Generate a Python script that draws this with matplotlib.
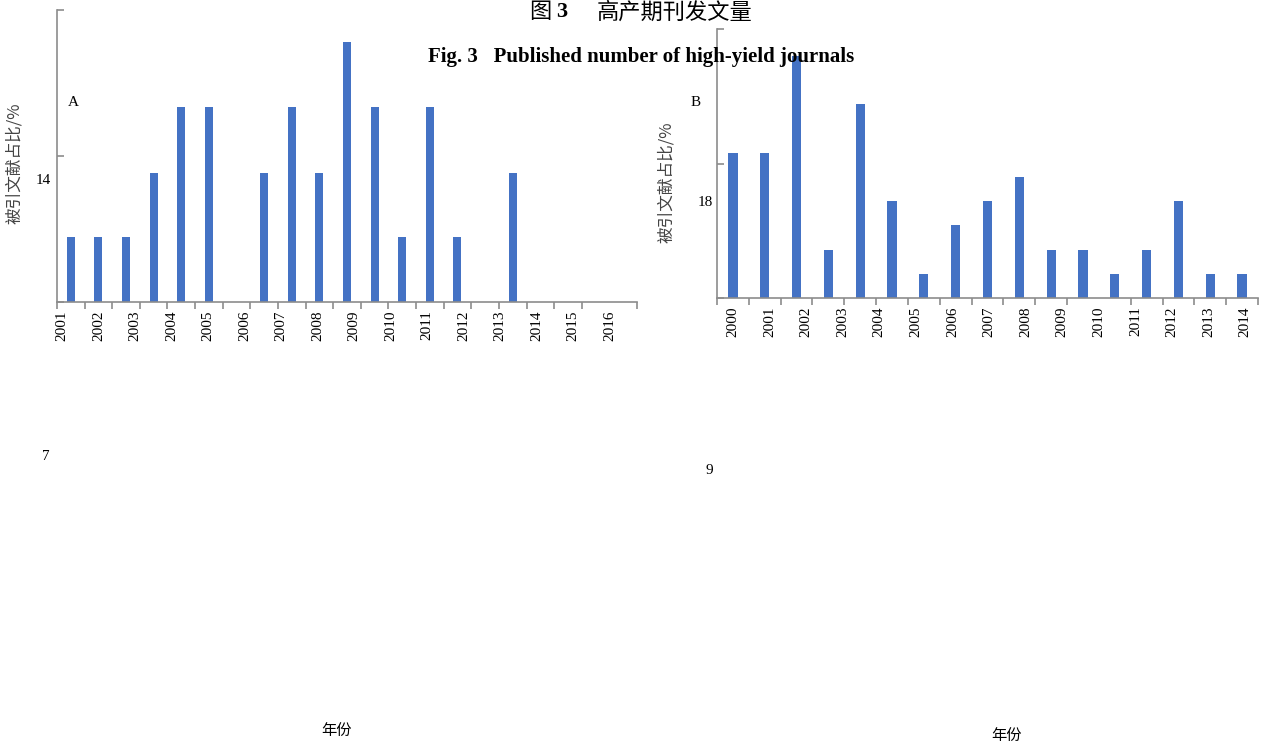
import numpy as np
import matplotlib
matplotlib.use("Agg")
import matplotlib.pyplot as plt

plt.rcParams["font.family"] = ["Liberation Serif", "Noto Sans CJK SC", "DejaVu Sans"]

# panel A: share of cited papers (%), one value per slot on the axis
years_a = ["2001", "2002", "2003", "2004", "2005", "2006", "2007", "2008",
           "2009", "2010", "2011", "2012", "2013", "2014", "2015", "2016"]
share_a = [6.7, 6.7, 6.7, 13.3, 20, 20, 0, 13.3, 20, 13.3, 26.7, 20, 6.7,
           20, 6.7, 0, 13.3, 0, 0, 0, 0]

# panel B
years_b = ["2000", "2001", "2002", "2003", "2004", "2005", "2006", "2007",
           "2008", "2009", "2010", "2011", "2012", "2013", "2014"]
share_b = [27, 27, 45, 9, 36, 18, 4.5, 13.5, 18, 22.5, 9, 9, 4.5, 9, 18,
           4.5, 4.5]

W, H = 1262, 742
BLUE = "#4472C4"
GREY = "#8c8c8c"
CJK = ["Noto Sans CJK SC", "DejaVu Sans"]
SERIF = ["Liberation Serif", "DejaVu Serif"]


def px(x, y):
    # pixel position (from top-left) -> figure fraction
    return x / W, 1 - y / H


def panel(rect, values, labels, ymax, label_span, ylabel_xy):
    ax = fig.add_axes(rect)
    n = len(values)
    x = np.arange(n)
    ax.bar(x, values, width=0.29, color=BLUE)
    ax.set_xlim(-0.5, n - 0.5)
    ax.set_ylim(0, ymax)
    for s in ("top", "right"):
        ax.spines[s].set_visible(False)
    for s in ("left", "bottom"):
        ax.spines[s].set_color(GREY)
        ax.spines[s].set_linewidth(1.2)
    # slot boundary ticks without labels
    ax.set_xticks(np.arange(n + 1) - 0.5, minor=True)
    ax.tick_params(axis="x", which="minor", direction="out", length=5,
                   color=GREY, width=1.2)
    # year labels spread evenly, independent of the slots
    ax.set_xticks(np.linspace(label_span[0], label_span[1], len(labels)))
    ax.set_xticklabels(labels, rotation=90, fontsize=11, family=SERIF)
    ax.tick_params(axis="x", which="major", length=0, pad=6)
    ax.set_yticks([0, ymax / 2, ymax])
    ax.set_yticklabels([])
    ax.tick_params(axis="y", direction="in", length=5, color=GREY, width=1.2)
    ax.set_ylabel("被引文献占比/%", family=CJK, fontsize=12, color="#444444")
    ax.yaxis.set_label_coords(*ylabel_xy)
    return ax


fig = plt.figure(figsize=(W / 100, H / 100), dpi=100)

panel([57 / W, 440 / H, 580 / W, 292 / H], share_a, years_a, 30,
      (-0.32, 19.5), (-0.058, 0.476))
panel([717 / W, 444 / H, 541 / W, 269 / H], share_b, years_b, 50,
      (0.0, 16.1), (-0.077, 0.43))

# title
fig.text(*px(540, 12), "图", family=CJK, fontsize=16, ha="center", va="center")
fig.text(*px(562, 12), "3", family=SERIF, fontsize=16, fontweight="bold",
         ha="center", va="center")
fig.text(*px(675, 12), "高产期刊发文量", family=CJK, fontsize=16,
         ha="center", va="center")
fig.text(*px(641, 57), "Fig. 3   Published number of high-yield journals",
         family=SERIF, fontsize=15, fontweight="bold", ha="center",
         va="center")

# loose labels
fig.text(*px(73, 103), "A", family=SERIF, fontsize=11, ha="center", va="center")
fig.text(*px(696, 103), "B", family=SERIF, fontsize=11, ha="center", va="center")
fig.text(*px(43, 180), "14", family=SERIF, fontsize=11, ha="center", va="center")
fig.text(*px(705, 202), "18", family=SERIF, fontsize=11, ha="center", va="center")
fig.text(*px(46, 457), "7", family=SERIF, fontsize=11, ha="center", va="center")
fig.text(*px(709, 470), "9", family=SERIF, fontsize=11, ha="center", va="center")
fig.text(*px(337, 730), "年份", family=CJK, fontsize=11, ha="center", va="center")
fig.text(*px(1007, 735), "年份", family=CJK, fontsize=11, ha="center", va="center")

fig.savefig("out.png", dpi=100)
